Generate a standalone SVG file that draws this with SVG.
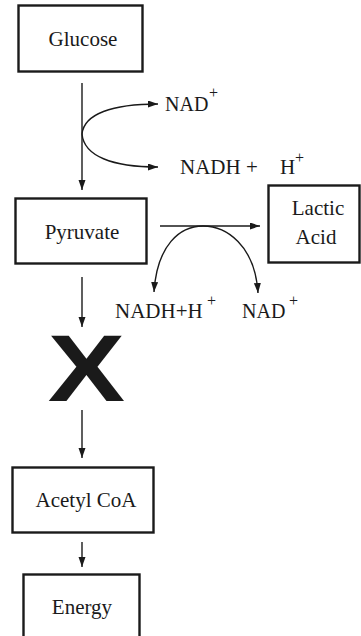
<svg xmlns="http://www.w3.org/2000/svg" width="361" height="636" viewBox="0 0 361 636">
<style>
.box{fill:#fff;stroke:#1a1a1a;stroke-width:2.4}
.lbl{font-size:21px;fill:#1a1a1a;text-anchor:middle}
.chem{font-size:20px;fill:#1a1a1a}
.chem2{font-size:21px;fill:#1a1a1a}
.sup{font-size:16px;fill:#1a1a1a}
.ln{fill:none;stroke:#1a1a1a;stroke-width:1.4}
</style>
<defs>
<marker id="ah" markerUnits="userSpaceOnUse" markerWidth="11" markerHeight="8" refX="10" refY="3.5" orient="auto">
<path d="M0,0 L10,3.5 L0,7 z" fill="#1a1a1a"/>
</marker>
</defs>
<rect width="361" height="636" fill="#fff"/>
<g id="connectors">
<path class="ln" d="M82,83 V190" marker-end="url(#ah)"/>
<path class="ln" d="M82,134 C84,114 112,104 158,104" marker-end="url(#ah)"/>
<path class="ln" d="M82,134 C84,156 112,167 158,167" marker-end="url(#ah)"/>
<path class="ln" d="M160,226 H260" marker-end="url(#ah)"/>
<path class="ln" d="M203,226 C180,226 157,245 154,292" marker-end="url(#ah)"/>
<path class="ln" d="M203,226 C226,226 255,245 258,293" marker-end="url(#ah)"/>
<path class="ln" d="M82,277 V327" marker-end="url(#ah)"/>
<path class="ln" d="M82,410 V458" marker-end="url(#ah)"/>
<path class="ln" d="M82,542 V567" marker-end="url(#ah)"/>
</g>
<g font-family="'Liberation Serif','Times New Roman','DejaVu Serif',serif">
<g id="glucose"><rect class="box" x="18.5" y="5.5" width="124" height="66"/><text class="lbl" x="83" y="46">Glucose</text></g>
<g id="pyruvate"><rect class="box" x="15.5" y="198.5" width="131" height="65"/><text class="lbl" x="82" y="239">Pyruvate</text></g>
<g id="lactic"><rect class="box" x="268.5" y="185.5" width="91" height="77"/><text class="lbl" x="318" y="215">Lactic</text><text class="lbl" x="316" y="244">Acid</text></g>
<g id="acetyl"><rect class="box" x="12.5" y="467.5" width="141" height="65"/><text class="lbl" x="86" y="507">Acetyl CoA</text></g>
<g id="energy"><rect class="box" x="23.5" y="574.5" width="116" height="70"/><text class="lbl" x="82" y="614">Energy</text></g>
<g id="labels">
<text class="chem" x="165" y="111">NAD</text><text class="sup" x="209" y="98">+</text>
<text class="chem2" x="180" y="174">NADH +</text><text class="chem2" x="280" y="174">H</text><text class="sup" x="295" y="163">+</text>
<text class="chem2" x="115" y="318">NADH+H</text><text class="sup" x="207" y="306">+</text>
<text class="chem" x="242" y="318">NAD</text><text class="sup" x="289" y="306">+</text>
</g>
</g>
<g id="block"><text transform="translate(86.5,401) scale(1.22,1)" x="0" y="0" font-family="'Liberation Sans',Arial,sans-serif" font-weight="bold" font-size="95" text-anchor="middle" fill="#1a1a1a">X</text></g>
</svg>
